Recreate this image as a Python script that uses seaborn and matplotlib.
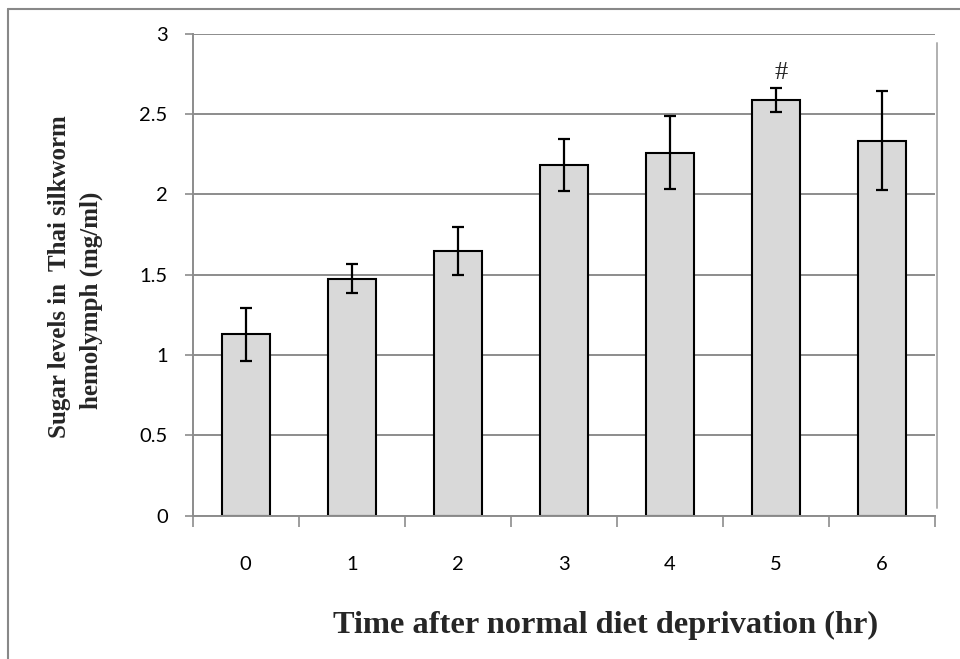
import matplotlib
matplotlib.use("Agg")
import matplotlib.pyplot as plt
import seaborn as sns
import pandas as pd
from matplotlib.lines import Line2D

hours = ["0", "1", "2", "3", "4", "5", "6"]
sugar = [1.13, 1.475, 1.65, 2.185, 2.26, 2.585, 2.335]
err = [0.165, 0.09, 0.15, 0.162, 0.225, 0.074, 0.31]
ytick_vals = [0, 0.5, 1, 1.5, 2, 2.5, 3]
ytick_labels = ["0", "0.5", "1", "1.5", "2", "2.5", "3"]
marks = {"5": "#"}

df = pd.DataFrame({"hour": hours, "sugar": sugar, "err": err})

sns.set_style("white")
plt.rcParams["font.family"] = ["Lato", "DejaVu Sans"]

fig = plt.figure(figsize=(9.6, 6.59), dpi=100)
ax = fig.add_axes([192.7 / 960, 1 - 515.7 / 659, (935 - 192.7) / 960, (515.7 - 33.7) / 659])

grid_c = "#8c8c8c"
ax.set_axisbelow(True)
ax.yaxis.grid(True, color=grid_c, linewidth=1.4)
ax.xaxis.grid(False)

sns.barplot(data=df, x="hour", y="sugar", order=hours, color="#d9d9d9",
            edgecolor="black", linewidth=1.5, width=0.45, saturation=1,
            errorbar=None, ax=ax, zorder=2)
xpos = list(range(len(hours)))
ax.errorbar(xpos, df["sugar"], yerr=df["err"], fmt="none", ecolor="black",
            elinewidth=1.6, capsize=4.3, capthick=1.6, zorder=3)

for i, h in enumerate(hours):
    if h in marks:
        ax.text(i + 0.05, df["sugar"][i] + df["err"][i] + 0.03, marks[h],
                ha="center", va="bottom", fontsize=19,
                family=["Liberation Serif", "DejaVu Serif"])

ax.set_ylim(0, 3)
ax.set_xlim(-0.5, len(hours) - 0.5)
ax.set_yticks(ytick_vals)
ax.set_yticklabels(ytick_labels)

for s in ["top", "right"]:
    ax.spines[s].set_visible(False)
for s in ["left", "bottom"]:
    ax.spines[s].set_color(grid_c)
    ax.spines[s].set_linewidth(1.4)

ax.tick_params(axis="y", which="major", direction="out", length=6, width=1.2,
               color=grid_c, labelsize=14.5, labelcolor="black", pad=12, left=True)
ax.set_xticks(xpos)
ax.tick_params(axis="x", which="major", length=0, labelsize=14.5, labelcolor="black", pad=29)
ax.set_xticks([x - 0.5 for x in xpos] + [len(hours) - 0.5], minor=True)
ax.tick_params(axis="x", which="minor", direction="out", length=8, width=1.2,
               color=grid_c, bottom=True)
ax.set_xlabel("")
ax.set_ylabel("")

# right plot-area edge artifact
ax.plot([1.0025, 1.0025], [0.016, 0.981], transform=ax.transAxes,
        color="#b0b0b0", linewidth=1.4, clip_on=False)

serif = ["Liberation Serif", "DejaVu Serif"]
fig.text(605.5 / 960, 1 - 625 / 659, "Time after normal diet deprivation (hr)",
         ha="center", va="center", fontsize=23.3, fontweight="bold", family=serif)
fig.text(60 / 960, 1 - 277 / 659, "Sugar levels in  Thai silkworm",
         ha="center", va="center", rotation=90, fontsize=18, fontweight="bold", family=serif)
fig.text(91 / 960, 1 - 300 / 659, "hemolymph (mg/ml)",
         ha="center", va="center", rotation=90, fontsize=18, fontweight="bold", family=serif)

# outer frame
fig.add_artist(Line2D([8 / 960, 8 / 960], [0, 1 - 9 / 659], transform=fig.transFigure,
                      color="#888888", linewidth=1.5))
fig.add_artist(Line2D([8 / 960, 1], [1 - 9 / 659, 1 - 9 / 659], transform=fig.transFigure,
                      color="#888888", linewidth=1.5))

fig.savefig("out.png", dpi=100)
